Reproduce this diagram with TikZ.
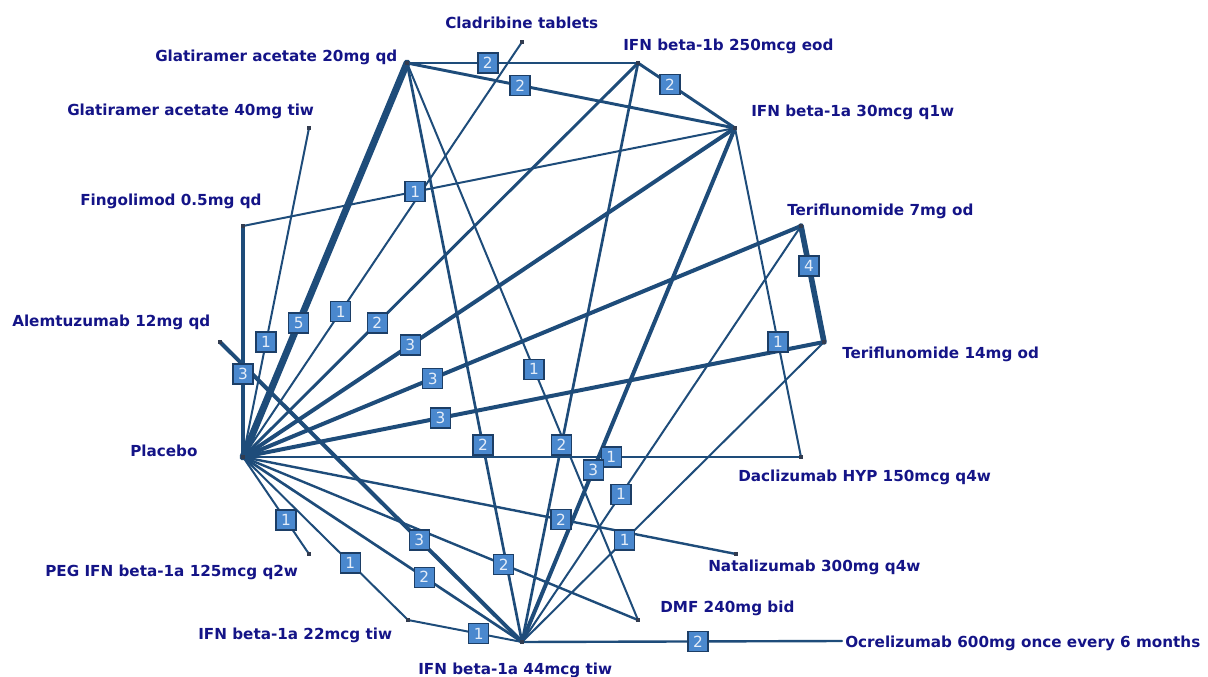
\documentclass[tikz,border=0pt]{standalone}
\usepackage{fontspec}
\setmainfont{DejaVu Sans}
\usetikzlibrary{calc}
\definecolor{edgec}{RGB}{30,76,122}
\definecolor{txtc}{RGB}{20,20,135}
\definecolor{boxf}{RGB}{74,136,206}
\definecolor{boxd}{RGB}{28,62,102}
\definecolor{boxt}{RGB}{228,237,249}
\definecolor{dotc}{RGB}{50,60,80}
\begin{document}
\begin{tikzpicture}[x=0.75pt,y=-0.75pt,
  trt/.style={inner sep=0pt,minimum size=0pt},
  lbl/.style={text=txtc,font=\fontsize{11.4}{13}\selectfont\bfseries,inner sep=0pt,anchor=base west},
  edge/.style={draw=edgec,line cap=round,line join=round},
  cnt/.style={draw=boxd,fill=boxf,line width=1.1pt,text=boxt,font=\fontsize{11.5}{12}\selectfont,minimum width=15pt,minimum height=15pt,inner sep=0pt},
  enddot/.style={fill=dotc,minimum size=2.6pt,inner sep=0pt}
]
\useasboundingbox (0,0) rectangle (1208,677);
% treatment points
\coordinate (Cla) at (522,42);
\coordinate (GA20) at (407,63);
\coordinate (IFNb) at (638,63);
\coordinate (GA40) at (309,128);
\coordinate (IFN30) at (735,128);
\coordinate (Fin) at (243,226);
\coordinate (Ter7) at (801,226);
\coordinate (Ale) at (220,342);
\coordinate (Ter14) at (824,342);
\coordinate (Pla) at (243,457);
\coordinate (Dac) at (801,457);
\coordinate (PEG) at (309,554);
\coordinate (Nat) at (736,554);
\coordinate (IFN22) at (408,620);
\coordinate (DMF) at (638,620);
\coordinate (IFN44) at (522,642);
\coordinate (Ocr) at (842,641);
% edges
\foreach \a/\b/\w in {
  GA20/IFNb/2.2, GA20/IFN30/2.2, IFNb/IFN30/2.2, Fin/IFN30/1.5,
  Pla/GA40/1.5, Pla/GA20/5.2, Pla/Cla/1.5, Pla/IFNb/2.2, Pla/IFN30/3,
  Pla/Ter7/3, Pla/Ter14/3, Pla/Fin/2.6, Ter7/Ter14/4.2, IFN30/Dac/1.5,
  GA20/DMF/1.5, GA20/IFN44/2, IFNb/IFN44/2, Pla/Dac/1.4, IFN30/IFN44/3,
  Ter7/IFN44/1.5, Pla/Nat/1.8, Ter14/IFN44/1.5, Pla/PEG/1.5, Pla/IFN22/1.5,
  Ale/IFN44/3, Pla/IFN44/2, Pla/DMF/1.8, IFN22/IFN44/1.5, IFN44/Ocr/1.8}
  \draw[edge,line width=\w pt] (\a) -- (\b);
% end dots
\foreach \p in {Cla,GA20,IFNb,GA40,IFN30,Fin,Ter7,Ale,Ter14,Pla,Dac,PEG,Nat,IFN22,DMF,IFN44}
  \node[enddot] at (\p) {};
% study counts
\foreach \a/\b/\n/\p in {
  GA20/IFNb/2/0.35, GA20/IFN30/2/0.345, IFNb/IFN30/2/0.33, Fin/IFN30/1/0.35,
  Pla/GA40/1/0.35, Pla/GA20/5/0.34, Pla/Cla/1/0.35, Pla/IFNb/2/0.34, Pla/IFN30/3/0.34,
  Pla/Ter7/3/0.34, Pla/Ter14/3/0.34, Pla/Fin/3/0.36, Ter7/Ter14/4/0.345, IFN30/Dac/1/0.65,
  GA20/DMF/1/0.55, GA20/IFN44/2/0.66, IFNb/IFN44/2/0.66, Pla/Dac/1/0.66, IFN30/IFN44/3/0.665,
  Ter7/IFN44/1/0.645, Pla/Nat/2/0.645, Ter14/IFN44/1/0.66, Pla/PEG/1/0.65, Pla/IFN22/1/0.65,
  Ale/IFN44/3/0.66, Pla/IFN44/2/0.65, Pla/DMF/2/0.66, IFN22/IFN44/1/0.62, IFN44/Ocr/2/0.55}
  \path (\a) -- (\b) node[cnt,pos=\p] {\n};
% treatment labels
\node[lbl] (tCla) at (445,29) {Cladribine tablets};
\node[lbl] (tGA20) at (155,62) {Glatiramer acetate 20mg qd};
\node[lbl] (tIFNb) at (623,51) {IFN beta-1b 250mcg eod};
\node[lbl] (tGA40) at (67,116) {Glatiramer acetate 40mg tiw};
\node[lbl] (tIFN30) at (751,117) {IFN beta-1a 30mcg q1w};
\node[lbl] (tFin) at (80,206) {Fingolimod 0.5mg qd};
\node[lbl] (tTer7) at (787,216) {Teriflunomide 7mg od};
\node[lbl] (tAle) at (12,327) {Alemtuzumab 12mg qd};
\node[lbl] (tTer14) at (842,359) {Teriflunomide 14mg od};
\node[lbl] (tPla) at (130,457) {Placebo};
\node[lbl] (tDac) at (738,482) {Daclizumab HYP 150mcg q4w};
\node[lbl] (tPEG) at (45,576) {PEG IFN beta-1a 125mcg q2w};
\node[lbl] (tNat) at (708,571) {Natalizumab 300mg q4w};
\node[lbl] (tDMF) at (660,612) {DMF 240mg bid};
\node[lbl] (tIFN22) at (198,639) {IFN beta-1a 22mcg tiw};
\node[lbl] (tOcr) at (845,647) {Ocrelizumab 600mg once every 6 months};
\node[lbl] (tIFN44) at (418,674) {IFN beta-1a 44mcg tiw};
\end{tikzpicture}
\end{document}
